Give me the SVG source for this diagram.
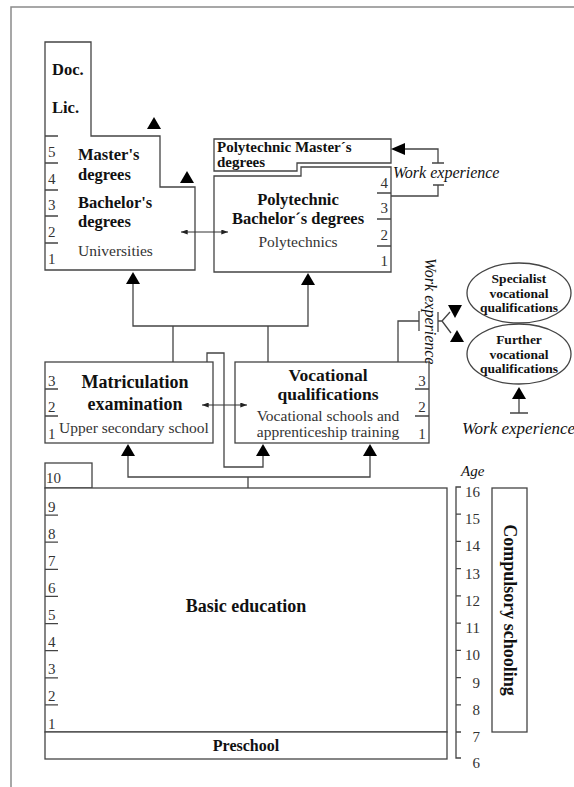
<svg xmlns="http://www.w3.org/2000/svg" width="574" height="787" viewBox="0 0 574 787">
<defs>
<style>
text{font-family:"Liberation Serif","DejaVu Serif",serif;fill:#111}
.bx{fill:#fff;stroke:#444;stroke-width:1.3}
.ln{fill:none;stroke:#444;stroke-width:1.3}
.thin{fill:none;stroke:#333;stroke-width:1}
.frame{fill:none;stroke:#8a8a8a;stroke-width:1.5}
.tri{fill:#000}
.h{font-weight:bold;font-size:16.5px}
.h2{font-weight:bold;font-size:18px}
.r{font-size:15.5px;fill:#333}
.n{font-size:15px;fill:#333}
.e{font-weight:bold;font-size:13.5px}
.it{font-style:italic;font-size:16px}
.c{text-anchor:middle}
</style>
<marker id="ah" viewBox="0 0 8 6" refX="8" refY="3" markerWidth="7" markerHeight="5" orient="auto-start-reverse" markerUnits="userSpaceOnUse"><path d="M0,0 L8,3 L0,6 Z" fill="#222"/></marker>
<path id="up" d="M0,0 L7,12 L-7,12 Z"/>
</defs>
<rect width="574" height="787" fill="#fff"/>
<path class="frame" d="M11,787 V7 H574"/>

<g id="universities">
  <path class="bx" d="M45,42 H91 V136 H160 V187 H195 V270 H45 Z"/>
  <path class="ln" d="M45,136 H58 M45,163 H58 M45,190 H58 M45,216 H58 M45,243 H58"/>
  <text class="n" x="48" y="157">5</text>
  <text class="n" x="48" y="184">4</text>
  <text class="n" x="48" y="210">3</text>
  <text class="n" x="48" y="237">2</text>
  <text class="n" x="48" y="264">1</text>
  <text class="h" x="52" y="75">Doc.</text>
  <text class="h" x="52" y="113">Lic.</text>
  <text class="h" x="78" y="160">Master's</text>
  <text class="h" x="78" y="180">degrees</text>
  <text class="h" x="78" y="208">Bachelor's</text>
  <text class="h" x="78" y="227">degrees</text>
  <text class="r" x="78" y="256">Universities</text>
</g>

<g id="poly-master">
  <path class="bx" d="M214,139 H391 V163 H297 V171 H214 Z"/>
  <text x="217" y="152" style="font-weight:bold;font-size:15px">Polytechnic Master´s</text>
  <text x="217" y="167" style="font-weight:bold;font-size:15px">degrees</text>
</g>

<g id="polytechnics">
  <path class="bx" d="M214,176 H301 V167 H391 V272 H214 Z"/>
  <path class="ln" d="M377,193 H391 M377,219 H391 M377,246 H391"/>
  <text class="n" x="388" y="188" text-anchor="end">4</text>
  <text class="n" x="388" y="213" text-anchor="end">3</text>
  <text class="n" x="388" y="240" text-anchor="end">2</text>
  <text class="n" x="388" y="266" text-anchor="end">1</text>
  <text class="h c" x="298" y="205">Polytechnic</text>
  <text class="h c" x="298" y="224">Bachelor´s degrees</text>
  <text class="r c" x="298" y="247">Polytechnics</text>
</g>

<g id="work-exp-poly">
  <text class="it" x="393" y="178">Work experience</text>
</g>

<g id="matriculation">
  <rect class="bx" x="45" y="362" width="168" height="81"/>
  <path class="ln" d="M45,389 H58 M45,416 H58"/>
  <text class="n" x="48" y="386">3</text>
  <text class="n" x="48" y="412">2</text>
  <text class="n" x="48" y="439">1</text>
  <text class="h2 c" x="135" y="388">Matriculation</text>
  <text class="h2 c" x="135" y="410">examination</text>
  <text class="r c" x="134" y="433">Upper secondary school</text>
</g>

<g id="vocational">
  <rect class="bx" x="235" y="362" width="194" height="81"/>
  <path class="ln" d="M415,389 H429 M415,416 H429"/>
  <text class="n c" x="422" y="386">3</text>
  <text class="n c" x="422" y="412">2</text>
  <text class="n c" x="422" y="439">1</text>
  <text class="c" x="328" y="381" style="font-weight:bold;font-size:17.5px">Vocational</text>
  <text class="c" x="328" y="400" style="font-weight:bold;font-size:17.5px">qualifications</text>
  <text class="r c" x="328" y="421">Vocational schools and</text>
  <text class="r c" x="328" y="437">apprenticeship training</text>
</g>

<g id="work-exp-voc">
  <text class="it" transform="translate(425,258) rotate(90)">Work experience</text>
</g>

<g id="specialist">
  <ellipse class="bx" cx="519" cy="293" rx="52" ry="30"/>
  <text class="e c" x="519" y="283">Specialist</text>
  <text class="e c" x="519" y="297.5">vocational</text>
  <text class="e c" x="519" y="312">qualifications</text>
</g>

<g id="further">
  <ellipse class="bx" cx="519" cy="354" rx="52" ry="30"/>
  <text class="e c" x="519" y="344">Further</text>
  <text class="e c" x="519" y="358.5">vocational</text>
  <text class="e c" x="519" y="373">qualifications</text>
</g>

<g id="work-exp-further">
  <text class="it" x="462" y="434" style="font-size:17px">Work experience</text>
</g>

<g id="basic">
  <rect class="bx" x="45" y="463" width="47" height="25"/>
  <text class="n" x="46" y="483">10</text>
  <rect class="bx" x="45" y="488" width="402" height="244"/>
  <path class="ln" d="M45,515.1 H58 M45,542.2 H58 M45,569.3 H58 M45,596.4 H58 M45,623.6 H58 M45,650.7 H58 M45,677.8 H58 M45,704.9 H58"/>
  <text class="n" x="48" y="511.6">9</text>
  <text class="n" x="48" y="538.7">8</text>
  <text class="n" x="48" y="565.8">7</text>
  <text class="n" x="48" y="592.9">6</text>
  <text class="n" x="48" y="620">5</text>
  <text class="n" x="48" y="647.2">4</text>
  <text class="n" x="48" y="674.3">3</text>
  <text class="n" x="48" y="701.4">2</text>
  <text class="n" x="48" y="728.5">1</text>
  <text class="h2 c" x="246" y="612">Basic education</text>
</g>

<g id="preschool">
  <rect class="bx" x="45" y="732" width="402" height="27"/>
  <text class="c" x="246" y="751" style="font-weight:bold;font-size:16px">Preschool</text>
</g>

<g id="age">
  <text class="it" x="461" y="476" style="font-size:15px">Age</text>
  <path class="ln" d="M461,487 H456 V758 H461 M456,514.2 H461 M456,541.4 H461 M456,568.7 H461 M456,595.9 H461 M456,623.1 H461 M456,650.3 H461 M456,677.6 H461 M456,704.8 H461 M456,732 H461"/>
  <text class="n" x="480" y="497" text-anchor="end">16</text>
  <text class="n" x="480" y="524.2" text-anchor="end">15</text>
  <text class="n" x="480" y="551.4" text-anchor="end">14</text>
  <text class="n" x="480" y="578.7" text-anchor="end">13</text>
  <text class="n" x="480" y="605.9" text-anchor="end">12</text>
  <text class="n" x="480" y="633.1" text-anchor="end">11</text>
  <text class="n" x="480" y="660.3" text-anchor="end">10</text>
  <text class="n" x="480" y="687.6" text-anchor="end">9</text>
  <text class="n" x="480" y="714.8" text-anchor="end">8</text>
  <text class="n" x="480" y="742" text-anchor="end">7</text>
  <text class="n" x="480" y="768" text-anchor="end">6</text>
</g>

<g id="compulsory">
  <rect class="bx" x="492" y="488" width="35" height="244"/>
  <text class="h2 c" transform="translate(504,610) rotate(90)">Compulsory schooling</text>
</g>

<g id="connectors">
  <path class="ln" d="M133,284 V326 H308 V284 M173,326 V362 M268,326 V362"/>
  <use href="#up" x="133" y="272" class="tri"/>
  <use href="#up" x="308" y="273" class="tri"/>
  <line class="thin" x1="181" y1="232" x2="228" y2="232" marker-start="url(#ah)" marker-end="url(#ah)"/>
  <line class="thin" x1="202" y1="405" x2="247" y2="405" marker-start="url(#ah)" marker-end="url(#ah)"/>
  <path class="ln" d="M207,362 V353 H224 V467 H263 V455"/>
  <use href="#up" x="263" y="444" class="tri"/>
  <path class="ln" d="M128,455 V477 H370 V455 M248,477 V488"/>
  <use href="#up" x="128" y="444" class="tri"/>
  <use href="#up" x="370" y="444" class="tri"/>
  <use href="#up" x="154" y="117" class="tri"/>
  <use href="#up" x="187" y="171" class="tri"/>
  <path class="tri" d="M391,149 L405,143 L405,155 Z"/>
  <path class="ln" d="M405,149 H438 V163 M432,163 H444 M433,185 H444 M438,185 V196 H391"/>
  <path class="ln" d="M398,362 V321 H419 M419,311 V331 M438,312 V332 M438,321 H442 L450,312 M442,321 L451,333"/>
  <path class="tri" d="M448,305 L462,305 L455,318 Z"/>
  <path class="tri" d="M457,330 L464,342 L450,342 Z"/>
  <use href="#up" x="519" y="387" class="tri"/>
  <path class="ln" d="M519,399 V413 M510,413 H528"/>
</g>
</svg>
